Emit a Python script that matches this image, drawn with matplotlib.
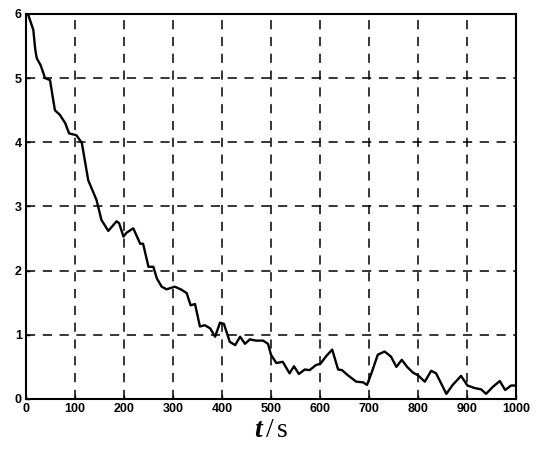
import numpy as np
import matplotlib.pyplot as plt

plt.rcParams['mathtext.fontset'] = 'custom'
plt.rcParams['mathtext.it'] = 'Liberation Serif:italic:bold'
plt.rcParams['mathtext.rm'] = 'Liberation Serif'

# curve
t = [4, 15, 19, 22, 30, 39, 49, 59, 69, 80, 88, 103, 114, 127, 144, 154, 168,
     185, 190, 199, 205, 219, 233, 239, 250, 260, 267, 277, 287, 304, 318, 328,
     336, 345, 355, 365, 376, 386, 396, 404, 416, 427, 437, 447, 457, 469, 484,
     494, 500, 511, 524, 538, 547, 557, 569, 579, 592, 601, 613, 625, 637, 645,
     657, 674, 688, 696, 705, 718, 732, 745, 756, 767, 778, 790, 800, 814, 827,
     837, 858, 871, 888, 901, 916, 929, 939, 953, 967, 978, 990, 1000]
y = [6.0, 5.75, 5.44, 5.31, 5.2, 5.0, 4.97, 4.5, 4.43, 4.3, 4.14, 4.11, 3.99,
     3.41, 3.1, 2.79, 2.62, 2.77, 2.74, 2.53, 2.59, 2.66, 2.42, 2.42, 2.06,
     2.06, 1.88, 1.75, 1.71, 1.75, 1.70, 1.65, 1.46, 1.48, 1.13, 1.15, 1.10,
     0.97, 1.19, 1.17, 0.89, 0.84, 0.97, 0.86, 0.93, 0.91, 0.91, 0.86, 0.69,
     0.56, 0.58, 0.40, 0.51, 0.39, 0.46, 0.45, 0.53, 0.55, 0.67, 0.77, 0.46,
     0.45, 0.37, 0.27, 0.26, 0.22, 0.40, 0.69, 0.74, 0.66, 0.50, 0.61, 0.50,
     0.41, 0.37, 0.27, 0.44, 0.40, 0.08, 0.22, 0.36, 0.21, 0.17, 0.15, 0.08,
     0.19, 0.28, 0.14, 0.21, 0.21]

xticks = [0, 100, 200, 300, 400, 500, 600, 700, 800, 900, 1000]
yticks = [0, 1, 2, 3, 4, 5, 6]

fig = plt.figure(figsize=(5.38, 4.51), dpi=100)
ax = fig.add_axes([0.0483, 0.1153, 0.9107, 0.8537])

ax.plot(t, y, color='black', linewidth=1.7)

ax.set_xlim(0, 1000)
ax.set_ylim(0, 6)
ax.set_xticks(xticks)
ax.set_yticks(yticks)
ax.grid(True, color='black', linestyle=(0, (6, 5)), linewidth=1.1)
ax.tick_params(direction='in', length=3, width=1, pad=3)
for lab in ax.get_xticklabels() + ax.get_yticklabels():
    lab.set_fontfamily('Liberation Sans')
    lab.set_fontweight('bold')
    lab.set_fontsize(9)
for s in ax.spines.values():
    s.set_linewidth(1.5)

ax.set_xlabel(r'$t\,/\,\mathrm{s}$', fontsize=20, labelpad=0)

fig.savefig('out.png', dpi=100)
